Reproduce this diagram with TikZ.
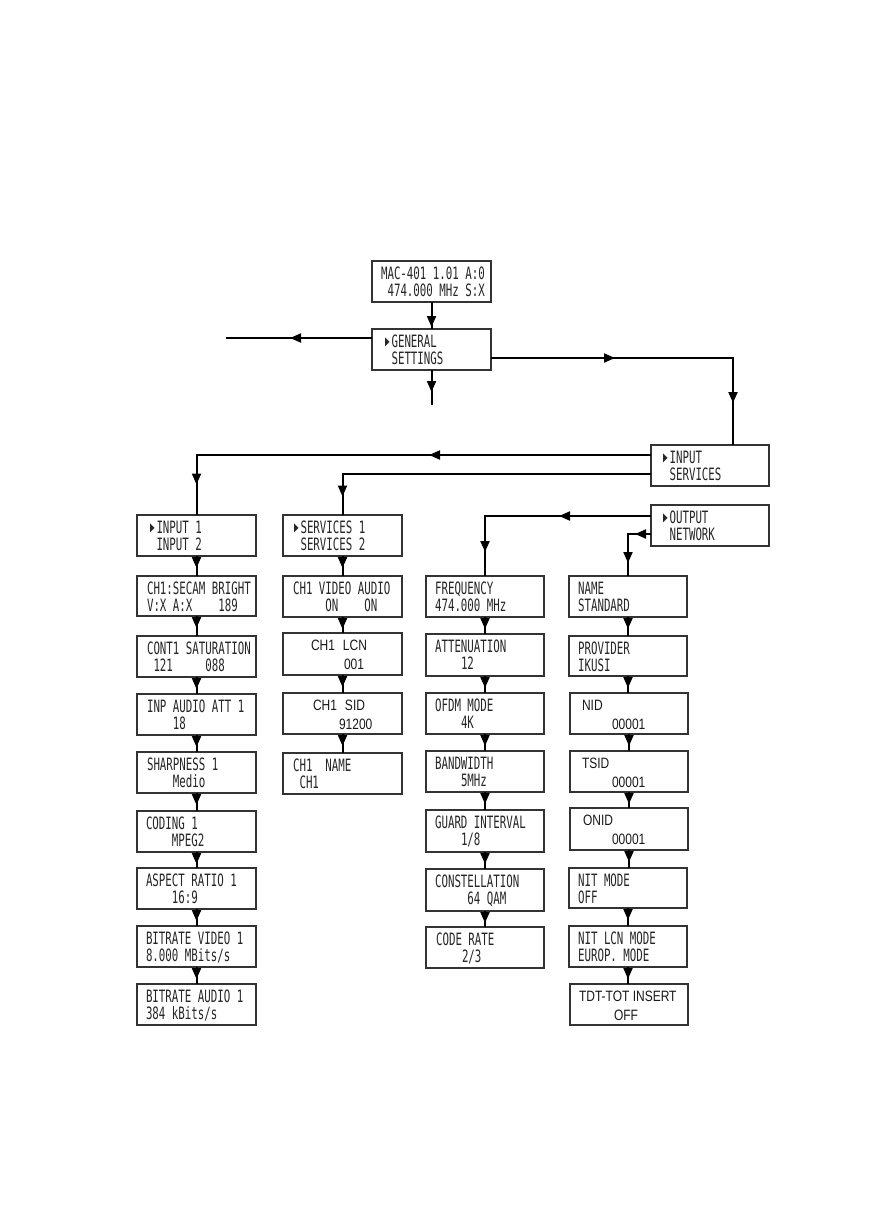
\documentclass[tikz,border=0pt]{standalone}
\usepackage{fontspec}
\usetikzlibrary{arrows.meta,decorations.markings}
\newfontfamily\lcdfont[FakeStretch=0.635]{DejaVu Sans Mono}
\newfontfamily\narfont[FakeStretch=0.8]{Liberation Sans}
\newfontfamily\symfont{DejaVu Sans}
\newcommand\tri{\rlap{\raisebox{1.8pt}{\scalebox{0.5}[1]{\symfont\fontsize{12}{12}\selectfont ▶}}}\hphantom{0}}
\tikzset{
  Tri/.tip={Triangle[width=9pt,length=11pt]},
  box/.style={draw=black!80, line width=1.7pt, fill=white, inner sep=0pt, outer sep=0pt},
  lt/.style={inner sep=0pt, outer sep=0pt, text=black!85, font=\lcdfont\fontsize{17}{17}\selectfont},
  nt/.style={inner sep=0pt, outer sep=0pt, text=black!90, font=\narfont\fontsize{15}{15}\selectfont},
  conn/.style={draw=black, line width=2pt},
  marr/.style={postaction={decorate,decoration={markings,mark=at position #1pt with {\arrow{Tri}}}}}
}
% name, x1, y1, x2, y2, dx, line1, line2
\newcommand\panel[8]{%
  \node[box, minimum width={(#4-#2)*1pt}, minimum height={(#5-#3)*1pt}] (#1) at ({(#2+#4)/2},{(#3+#5)/2}) {};
  \node[lt, anchor=base west] (#1a) at ([xshift=#6pt,yshift=-18.3pt]#1.north west) {#7};
  \node[lt, anchor=base west] (#1b) at ([xshift=#6pt,yshift=-35.5pt]#1.north west) {#8};
}
\newcommand\npanel[8]{%
  \node[box, minimum width={(#4-#2)*1pt}, minimum height={(#5-#3)*1pt}] (#1) at ({(#2+#4)/2},{(#3+#5)/2}) {};
  \node[nt, anchor=base west] (#1a) at ([xshift=#6pt,yshift=-17pt]#1.north west) {#7};
  \node[nt, anchor=base west] (#1b) at ([xshift=#6pt,yshift=-36pt]#1.north west) {#8};
}
\begin{document}
\begin{tikzpicture}[x=1pt,y=-1pt]
\fill[white] (0,0) rectangle (878,1229);
\useasboundingbox (0,0) rectangle (878,1229);

% top
\panel{mac}{372}{261}{491}{302}{9}{MAC-401 1.01 A:0}{\hphantom{0}474.000 MHz S:X}
\panel{gen}{372}{329}{491}{370}{13}{\tri GENERAL}{\hphantom{0}SETTINGS}
\panel{ins}{651}{445}{769}{486}{12}{\tri INPUT}{\hphantom{0}SERVICES}
\panel{out}{651}{505}{769}{546}{12}{\tri OUTPUT}{\hphantom{0}NETWORK}

% left column
\panel{in1}{137}{515}{256}{556}{13}{\tri INPUT 1}{\hphantom{0}INPUT 2}
\panel{sec}{137}{576}{256}{616}{10}{CH1:SECAM BRIGHT}{V:X A:X\hphantom{0000}189}
\panel{con}{137}{636}{256}{677}{10}{CONT1 SATURATION}{\hphantom{0}121\hphantom{00000}088}
\panel{iaa}{137}{694}{256}{735}{10}{INP AUDIO ATT 1}{\hphantom{0000}18}
\panel{shp}{137}{752}{256}{793}{10}{SHARPNESS 1}{\hphantom{0000}Medio}
\panel{cod}{137}{811}{256}{852}{9}{CODING 1}{\hphantom{0000}MPEG2}
\panel{asp}{137}{868}{256}{909}{9}{ASPECT RATIO 1}{\hphantom{0000}16:9}
\panel{brv}{137}{926}{256}{967}{9}{BITRATE VIDEO 1}{8.000 MBits/s}
\panel{bra}{137}{984}{256}{1025}{9}{BITRATE AUDIO 1}{384 kBits/s}

% middle column
\panel{sv}{283}{515}{402}{556}{11}{\tri SERVICES 1}{\hphantom{0}SERVICES 2}
\panel{cva}{283}{576}{402}{617}{10}{CH1 VIDEO AUDIO}{\hphantom{00000}ON\hphantom{0000}ON}
\npanel{lcn}{283}{633}{402}{675}{28}{CH1\hspace{8pt}LCN}{\hspace*{33pt}001}
\npanel{sid}{283}{693}{402}{734}{30}{CH1\hspace{8pt}SID}{\hspace*{26pt}91200}
\panel{cnm}{283}{753}{402}{794}{10}{CH1\hphantom{00}NAME}{\hphantom{0}CH1}

% third column
\panel{frq}{426}{576}{544}{617}{9}{FREQUENCY}{474.000 MHz}
\panel{att}{426}{634}{544}{676}{9}{ATTENUATION}{\hphantom{0000}12}
\panel{ofd}{426}{693}{544}{734}{9}{OFDM MODE}{\hphantom{0000}4K}
\panel{bw}{426}{751}{544}{792}{9}{BANDWIDTH}{\hphantom{0000}5MHz}
\panel{gi}{426}{810}{544}{852}{9}{GUARD INTERVAL}{\hphantom{0000}1/8}
\panel{cst}{426}{869}{544}{911}{9}{CONSTELLATION}{\hphantom{00000}64 QAM}
\panel{cr}{426}{927}{544}{968}{10}{CODE RATE}{\hphantom{0000}2/3}

% right column
\panel{nm}{569}{576}{687}{617}{9}{NAME}{STANDARD}
\panel{prv}{569}{636}{687}{676}{9}{PROVIDER}{IKUSI}
\npanel{nid}{570}{693}{688}{734}{12}{NID}{\hspace*{30pt}00001}
\npanel{tsid}{570}{751}{688}{792}{12}{TSID}{\hspace*{30pt}00001}
\npanel{onid}{570}{808}{688}{850}{13}{ONID}{\hspace*{29pt}00001}
\panel{nit}{569}{868}{687}{908}{9}{NIT MODE}{OFF}
\panel{nlc}{569}{926}{687}{967}{9}{NIT LCN MODE}{EUROP. MODE}
\npanel{tdt}{570}{984}{688}{1025}{9}{TDT-TOT INSERT}{\hspace*{35pt}OFF}

% free ends and corners
\coordinate (gL) at (226,338);
\coordinate (gR) at (733,358);
\coordinate (gD) at ([yshift=-35pt]gen.south);
\coordinate (i1) at (0,455);
\coordinate (i2) at (0,474);
\coordinate (o1) at (0,516);
\coordinate (o2) at (0,534);

% top connectors
\draw[conn,marr=25] (mac.south) -- (mac.south |- gen.north);
\draw[conn,marr=82] (gen.west |- gL) -- (gL);
\draw[conn,marr=22] (gen.south) -- (gD);
\draw[conn,marr=124,marr=287] (gen.east |- gR) -- (gR) -- (gR |- ins.north);
\draw[conn,marr=222,marr=484] (ins.west |- i1) -| (in1.north);
\draw[conn,marr=331] (ins.west |- i2) -| (sv.north);
\draw[conn,marr=92,marr=202] (out.west |- o1) -| (frq.north);
\draw[conn,marr=16,marr=52] (out.west |- o2) -| (nm.north);

% column connectors
\foreach \a/\b in {in1/sec,sec/con,con/iaa,iaa/shp,shp/cod,cod/asp,asp/brv,brv/bra,
                   sv/cva,cva/lcn,lcn/sid,sid/cnm,
                   frq/att,att/ofd,ofd/bw,bw/gi,gi/cst,cst/cr,
                   nm/prv,prv/nid,nid/tsid,tsid/onid,onid/nit,nit/nlc,nlc/tdt}
  \draw[conn,marr=12] (\a.south) -- (\a.south |- \b.north);
\end{tikzpicture}
\end{document}
